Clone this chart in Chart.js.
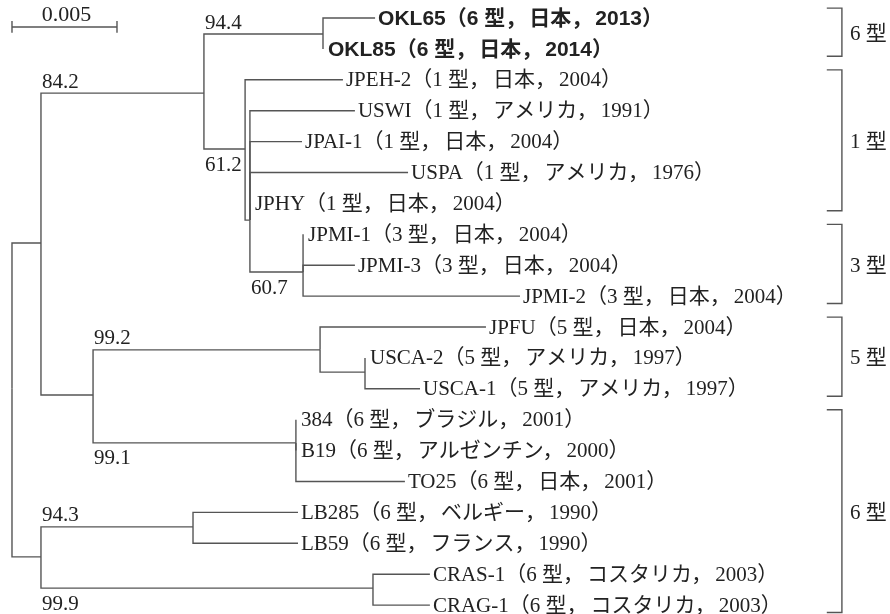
<!DOCTYPE html>
<html>
<head>
<meta charset="utf-8">
<script src="https://cdn.jsdelivr.net/npm/chart.js@4.4.1/dist/chart.umd.min.js"></script>
<style>
  html, body { margin: 0; padding: 0; background: #fff; }
  #wrap { width: 890px; height: 614px; }
</style>
</head>
<body>
<div id="wrap"><canvas id="tree"></canvas></div>
<script>
// leaves, top to bottom (row index = position in list)
const leafNames = [
    'OKL65（6 型，日本，2013）', 'OKL85（6 型，日本，2014）',
    'JPEH-2（1 型，日本，2004）', 'USWI（1 型，アメリカ，1991）',
    'JPAI-1（1 型，日本，2004）', 'USPA（1 型，アメリカ，1976）',
    'JPHY（1 型，日本，2004）', 'JPMI-1（3 型，日本，2004）',
    'JPMI-3（3 型，日本，2004）', 'JPMI-2（3 型，日本，2004）',
    'JPFU（5 型，日本，2004）', 'USCA-2（5 型，アメリカ，1997）',
    'USCA-1（5 型，アメリカ，1997）', '384（6 型，ブラジル，2001）',
    'B19（6 型，アルゼンチン，2000）', 'TO25（6 型，日本，2001）',
    'LB285（6 型，ベルギー，1990）', 'LB59（6 型，フランス，1990）',
    'CRAS-1（6 型，コスタリカ，2003）', 'CRAG-1（6 型，コスタリカ，2003）'
];
const boldLeaves = [0, 1];
// distance from root to each leaf tip
const leafDist = [0.01729, 0.01481, 0.01576, 0.01633, 0.01381, 0.01886, 0.01133,
    0.01386, 0.01633, 0.02419, 0.02257, 0.01681, 0.01943, 0.01352, 0.01352,
    0.01871, 0.01362, 0.01362, 0.01990, 0.01990];
// parent of each leaf (internal node id)
const leafParent = ['D', 'D', 'E', 'G', 'G', 'G', 'G', 'F', 'F', 'F',
    'I', 'J', 'J', 'K', 'K', 'K', 'L', 'L', 'M', 'M'];

// internal nodes
const nodeIds    = ['R', 'A', 'B', 'C', 'H', 'D', 'E', 'G', 'F', 'I', 'J', 'K', 'L', 'M'];
const nodeParent = [null, 'R', 'R', 'A', 'A', 'C', 'C', 'E', 'G', 'H', 'I', 'H', 'B', 'B'];
const nodeDist   = [0, 0.00138, 0.00138, 0.00914, 0.00386, 0.01481, 0.01110, 0.01133,
    0.01386, 0.01467, 0.01681, 0.01352, 0.00862, 0.01719];
const nodeRow    = [12, 7.28, 17.44, 2.43, 12.2, 0.52, 4.24, 6.54, 8.22, 10.74,
    11.46, 13.75, 16.47, 18.45];

// bootstrap values (node, value, above/below its branch)
const bootNodes = ['D', 'C', 'E', 'F', 'I', 'K', 'L', 'M'];
const bootVals  = ['94.4', '84.2', '61.2', '60.7', '99.2', '99.1', '94.3', '99.9'];
const bootSide  = ['above', 'above', 'below', 'below', 'above', 'below', 'above', 'below'];

// genotype groups on the right
const groupNames = ['6 型', '1 型', '3 型', '5 型', '6 型'];
const groupFirst = [0, 2, 7, 10, 13];
const groupLast  = [1, 6, 9, 12, 19];

const scaleBarLen = 0.005;

const lineColor = '#555';
const textColor = '#222';
const serif = '"Liberation Serif", "DejaVu Serif", "Noto Sans CJK JP", serif';
const sans = '"Liberation Sans", "Noto Sans CJK JP", sans-serif';

function node(id) {
    const i = nodeIds.indexOf(id);
    return { x: nodeDist[i], y: nodeRow[i] };
}

function seg(points) {
    return {
        data: points,
        showLine: true,
        borderColor: lineColor,
        borderWidth: 1.4,
        pointRadius: 0,
        pointHoverRadius: 0,
        fill: false,
        tension: 0
    };
}

const datasets = [];
// elbows for internal nodes
nodeIds.forEach((id, i) => {
    if (!nodeParent[i]) return;
    const p = node(nodeParent[i]);
    datasets.push(seg([{ x: p.x, y: p.y }, { x: p.x, y: nodeRow[i] }, { x: nodeDist[i], y: nodeRow[i] }]));
});
// elbows for leaves
leafNames.forEach((n, i) => {
    const p = node(leafParent[i]);
    datasets.push(seg([{ x: p.x, y: p.y }, { x: p.x, y: i }, { x: leafDist[i], y: i }]));
});
// group brackets
const brX = 0.03952, brTick = 0.00072;
groupNames.forEach((g, i) => {
    const top = groupFirst[i] - 0.32, bot = groupLast[i] + 0.24;
    datasets.push(seg([{ x: brX - brTick, y: top }, { x: brX, y: top }, { x: brX, y: bot }, { x: brX - brTick, y: bot }]));
});
// scale bar
const sbRow = 0.29;
datasets.push(seg([{ x: 0, y: sbRow }, { x: scaleBarLen, y: sbRow }]));
datasets.push(seg([{ x: 0, y: sbRow - 0.19 }, { x: 0, y: sbRow + 0.19 }]));
datasets.push(seg([{ x: scaleBarLen, y: sbRow - 0.19 }, { x: scaleBarLen, y: sbRow + 0.19 }]));

// draw a label piece by piece so the full-width comma gets some air after it
function drawLabel(ctx, text, x, y) {
    const parts = text.split('，');
    parts.forEach((p, k) => {
        const s = k < parts.length - 1 ? p + '，' : p;
        ctx.fillText(s, x, y);
        x += ctx.measureText(s).width + (k < parts.length - 1 ? 3 : 0);
    });
}

const labelPlugin = {
    id: 'treeLabels',
    afterDatasetsDraw(chart) {
        const ctx = chart.ctx;
        const xs = chart.scales.x, ys = chart.scales.y;
        ctx.save();
        ctx.fillStyle = textColor;
        ctx.textBaseline = 'middle';
        ctx.textAlign = 'left';

        leafNames.forEach((n, i) => {
            const isBold = boldLeaves.includes(i);
            ctx.font = isBold ? 'bold 21px ' + sans : '21px ' + serif;
            const gap = leafDist[i] === nodeDist[nodeIds.indexOf(leafParent[i])] ? 5 : 3;
            drawLabel(ctx, n, xs.getPixelForValue(leafDist[i]) + gap, ys.getPixelForValue(i) + 1);
        });

        ctx.font = '21px ' + serif;
        bootNodes.forEach((id, i) => {
            const k = nodeIds.indexOf(id);
            const p = node(nodeParent[k]);
            const y = ys.getPixelForValue(nodeRow[k]);
            ctx.fillText(bootVals[i], xs.getPixelForValue(p.x) + 1, bootSide[i] === 'above' ? y - 11 : y + 16);
        });

        ctx.font = '21px ' + serif;
        groupNames.forEach((g, i) => {
            const mid = (groupFirst[i] + groupLast[i]) / 2;
            ctx.fillText(g, xs.getPixelForValue(brX) + 8, ys.getPixelForValue(mid) + 1);
        });

        ctx.font = '22px ' + serif;
        ctx.textAlign = 'center';
        ctx.fillText('0.005', xs.getPixelForValue(scaleBarLen / 2) + 2, ys.getPixelForValue(sbRow) - 12);
        ctx.restore();
    }
};

new Chart(document.getElementById('tree').getContext('2d'), {
    type: 'scatter',
    data: { datasets: datasets },
    options: {
        responsive: true,
        maintainAspectRatio: false,
        animation: false,
        layout: { padding: 0 },
        plugins: { legend: { display: false }, tooltip: { enabled: false } },
        scales: {
            x: { type: 'linear', display: false, min: -0.000571, max: 0.04181 },
            y: { type: 'linear', display: false, min: -0.5825, max: 19.288, reverse: true }
        }
    },
    plugins: [labelPlugin]
});
</script>
</body>
</html>
